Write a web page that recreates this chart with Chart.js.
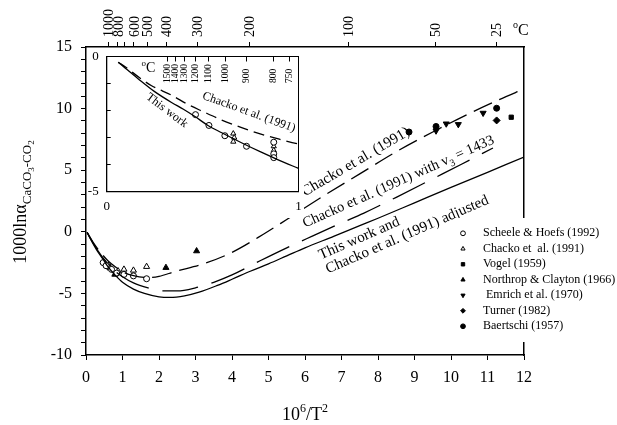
<!DOCTYPE html>
<html>
<head>
<meta charset="utf-8">
<script src="https://cdn.jsdelivr.net/npm/chart.js@4.4.0/dist/chart.umd.min.js"></script>
<style>
  body { margin: 0; background: #fff; }
  #wrap { position: relative; width: 617px; height: 425px; }
  #main { position: absolute; left: 0; top: 0; }
  #inset { position: absolute; left: 88px; top: 50px; background: #fff; }
</style>
</head>
<body>
<div id="wrap">
  <canvas id="main" width="617" height="425"></canvas>
  <canvas id="inset" width="216" height="168"></canvas>
</div>
<script>
// x = 10^6/T^2, y = 1000 ln alpha (CaCO3-CO2)
var chackoX = [0.03, 0.2, 0.4, 0.6, 0.8, 1.0, 1.3, 1.7, 2.0, 2.44, 3.2, 4.0, 4.86, 5.5, 6.5, 7.5, 8.5, 9.5, 10.5, 11.3, 12];
var chackoY = [-0.05, -0.87, -1.68, -2.35, -2.84, -3.24, -3.55, -3.72, -3.62, -3.22, -2.62, -1.67, -0.2, 1.0, 2.9, 4.7, 6.5, 8.1, 9.6, 10.7, 11.6];

var v3X = [0.03, 0.2, 0.4, 0.6, 0.8, 1.0, 1.3, 1.7, 2.1, 2.5, 3.0, 3.5, 4.0, 4.77, 5.5, 6.2, 7.0, 7.6, 8.5, 9.5, 10.3, 11.15];
var v3Y = [-0.05, -0.95, -1.85, -2.6, -3.2, -3.65, -4.15, -4.55, -4.8, -4.8, -4.55, -4.1, -3.5, -2.35, -1.3, -0.35, 0.72, 1.5, 2.8, 4.3, 5.5, 6.8];

var workX = [0.03, 0.1, 0.2, 0.34, 0.46, 0.6, 0.8, 1.0, 1.3, 1.6, 2.0, 2.3, 2.7, 3.1, 3.6, 4.0, 4.5, 5.0, 5.5, 6.0, 6.8, 7.5, 8.0, 9.0, 10.0, 11.0, 12.0];
var workY = [-0.05, -0.45, -1.0, -1.7, -2.2, -2.82, -3.52, -4.1, -4.65, -5.0, -5.28, -5.33, -5.2, -4.9, -4.35, -3.85, -3.2, -2.6, -1.95, -1.3, -0.35, 0.5, 1.1, 2.35, 3.6, 4.83, 6.06];

// measurements, legend order
var seriesNames = ['Scheele & Hoefs (1992)', 'Chacko et  al. (1991)', 'Vogel (1959)', 'Northrop & Clayton (1966)', ' Emrich et al. (1970)', 'Turner (1982)', 'Baertschi (1957)'];
var scheeleX = [0.47, 0.55, 0.70, 0.84, 1.04, 1.3, 1.66];
var scheeleY = [-2.5, -2.75, -3.05, -3.35, -3.46, -3.58, -3.81];
var chackoPtX = [0.61, 0.66, 0.88, 1.04, 1.3, 1.66];
var chackoPtY = [-2.73, -2.95, -3.19, -3.05, -3.13, -2.83];
var vogelX = [11.65];
var vogelY = [9.3];
var northropX = [0.66, 0.79, 2.19, 3.03];
var northropY = [-2.91, -3.46, -2.91, -1.56];
var emrichX = [9.59, 9.87, 10.2, 10.88];
var emrichY = [8.2, 8.77, 8.72, 9.64];
var turnerX = [11.25];
var turnerY = [9.04];
var baertschiX = [8.85, 9.59, 11.25];
var baertschiY = [8.1, 8.55, 10.03];

// top axis temperatures (deg C); 700 has a tick but no label
var topC = [1000, 800, 700, 600, 500, 400, 300, 200, 100, 50, 25];
var topCLabels = ['1000', '800', '', '600', '500', '400', '300', '200', '100', '50', '25'];

// inset (high temperature detail)
var insetWorkX = [0.06, 0.1, 0.165, 0.25, 0.338, 0.4, 0.46, 0.53, 0.6, 0.7, 0.8, 0.9, 1.0];
var insetWorkY = [-0.21, -0.45, -0.83, -1.3, -1.7, -1.95, -2.22, -2.56, -2.82, -3.18, -3.52, -3.84, -4.14];
var insetChackoX = [0.06, 0.1, 0.17, 0.234, 0.338, 0.425, 0.5, 0.6, 0.7, 0.8, 0.9, 1.0];
var insetChackoY = [-0.21, -0.4, -0.78, -1.08, -1.43, -1.78, -2.03, -2.35, -2.62, -2.86, -3.06, -3.24];
var insetCircX = [0.463, 0.533, 0.616, 0.729, 0.871, 0.871, 0.871];
var insetCircY = [-2.15, -2.55, -2.93, -3.32, -3.17, -3.6, -3.74];
var insetTriX = [0.66, 0.665, 0.66, 0.871, 0.871];
var insetTriY = [-2.85, -3.0, -3.15, -3.32, -3.47];
var insetC = [1500, 1400, 1300, 1200, 1100, 1000, 900, 800, 750];

var FONT = '"Liberation Serif", "Times New Roman", serif';
Chart.defaults.font.family = FONT;
Chart.defaults.color = '#000';

function toInvT2(c) { return 1e6 / Math.pow(c + 273.15, 2); }
function pts(xs, ys) { return xs.map(function (x, i) { return { x: x, y: ys[i] }; }); }

function curve(xs, ys, dash) {
  return {
    type: 'line', data: pts(xs, ys), borderColor: '#000', borderWidth: 1.3,
    borderDash: dash, pointRadius: 0, cubicInterpolationMode: 'monotone', fill: false
  };
}
function marks(xs, ys, style, filled, r, rot) {
  return {
    type: 'scatter', data: pts(xs, ys), pointStyle: style, pointRadius: r,
    pointRotation: rot || 0, pointBackgroundColor: filled ? '#000' : '#fff',
    pointBorderColor: '#000', pointBorderWidth: 1
  };
}
// keep the plot frame exactly where afterFit puts it
function noPad(s) { s.paddingTop = 0; s.paddingBottom = 0; s.paddingLeft = 0; s.paddingRight = 0; }

function richText(ctx, parts, x, y, angle, align) {
  ctx.save();
  ctx.translate(x, y);
  ctx.rotate(angle * Math.PI / 180);
  ctx.fillStyle = '#000';
  ctx.textBaseline = 'alphabetic';
  ctx.textAlign = 'left';
  var total = 0;
  parts.forEach(function (p) { ctx.font = p.size + 'px ' + FONT; total += ctx.measureText(p.text).width; });
  var cx = align === 'center' ? -total / 2 : 0;
  parts.forEach(function (p) {
    ctx.font = p.size + 'px ' + FONT;
    ctx.fillText(p.text, cx, p.dy || 0);
    cx += ctx.measureText(p.text).width;
  });
  ctx.restore();
}

// text along the curves, anchored in data units
var curveNotes = [
  { parts: [{ text: 'Chacko et al. (1991)', size: 15 }], x: 6.0, y: 2.87, angle: -30.5 },
  { parts: [{ text: 'Chacko et al. (1991) with v', size: 14.5 }, { text: '3', size: 10, dy: 4 }, { text: ' = 1433', size: 14.5 }], x: 6.0, y: 0.34, angle: -24 },
  { parts: [{ text: 'This work and', size: 15 }], x: 6.44, y: -2.24, angle: -23.5 },
  { parts: [{ text: 'Chacko et al. (1991) adjusted', size: 15 }], x: 6.63, y: -3.38, angle: -23.5 }
];

var mainNotes = {
  id: 'mainNotes',
  afterDraw: function (chart) {
    var ctx = chart.ctx, a = chart.chartArea, sx = chart.scales.x, sy = chart.scales.y;
    curveNotes.forEach(function (n) {
      richText(ctx, n.parts, sx.getPixelForValue(n.x), sy.getPixelForValue(n.y), n.angle);
    });
    // degree C mark at end of top axis
    richText(ctx, [{ text: 'o', size: 10, dy: -7 }, { text: 'C', size: 16 }], sx.getPixelForValue(11.7), a.top - 12, 0);
    // axis titles
    var midX = (a.left + a.right) / 2;
    richText(ctx, [{ text: '10', size: 18 }, { text: '6', size: 12, dy: -8 }, { text: '/T', size: 18 }, { text: '2', size: 12, dy: -8 }], midX, 420, 0, 'center');
    richText(ctx, [{ text: '1000ln\u03b1', size: 18 }, { text: 'CaCO', size: 13, dy: 5 }, { text: '3', size: 9, dy: 8 },
      { text: '-CO', size: 13, dy: 5 }, { text: '2', size: 9, dy: 8 }], 25.5, (a.top + a.bottom) / 2 + 1, -90, 'center');

    // legend inside the plot, over the right frame
    ctx.save();
    ctx.fillStyle = '#fff';
    ctx.fillRect(455, a.top + 171, 617 - 455, 124);
    ctx.restore();
    var first = 3;
    for (var i = 0; i < seriesNames.length; i++) {
      var ds = chart.data.datasets[first + i];
      var yy = a.top + 186.3 + i * 15.5;
      ctx.save();
      ctx.fillStyle = ds.pointBackgroundColor;
      ctx.strokeStyle = '#000';
      ctx.lineWidth = 1;
      Chart.helpers.drawPoint(ctx, { pointStyle: ds.pointStyle, radius: 2.4, rotation: ds.pointRotation, borderWidth: 1 }, a.right - 61, yy);
      ctx.restore();
      ctx.save();
      ctx.font = '12px ' + FONT;
      ctx.fillStyle = '#000';
      ctx.textBaseline = 'middle';
      ctx.fillText(seriesNames[i], a.right - 41, yy);
      ctx.restore();
    }
  }
};

new Chart(document.getElementById('main'), {
  type: 'scatter',
  data: {
    datasets: [
      curve(chackoX, chackoY, [20, 8]),
      curve(v3X, v3Y, [36, 14]),
      curve(workX, workY, []),
      marks(scheeleX, scheeleY, 'circle', false, 3),
      marks(chackoPtX, chackoPtY, 'triangle', false, 3.5),
      marks(vogelX, vogelY, 'rect', true, 3),
      marks(northropX, northropY, 'triangle', true, 3.5),
      marks(emrichX, emrichY, 'triangle', true, 3.5, 180),
      marks(turnerX, turnerY, 'rectRot', true, 3.5),
      marks(baertschiX, baertschiY, 'circle', true, 3)
    ]
  },
  options: {
    responsive: false,
    animation: false,
    layout: { padding: { left: 0, right: 93, top: 0, bottom: 0 } },
    plugins: { legend: { display: false }, tooltip: { enabled: false } },
    scales: {
      x: {
        type: 'linear', position: 'bottom', min: 0, max: 12,
        ticks: { stepSize: 1, autoSkip: false, maxRotation: 0, padding: 8, font: { size: 16 }, color: '#000' },
        grid: { drawOnChartArea: false, tickLength: 5, color: '#000' },
        border: { color: '#000', width: 1.5 },
        afterFit: function (s) { s.height = 70; noPad(s); }
      },
      xTop: {
        type: 'linear', position: 'top', min: 0, max: 12,
        afterBuildTicks: function (s) { s.ticks = topC.map(function (c) { return { value: toInvT2(c) }; }); },
        ticks: {
          autoSkip: false, minRotation: 90, maxRotation: 90, padding: 5, labelOffset: 18, font: { size: 14 }, color: '#000',
          callback: function (v, i) { return topCLabels[i]; }
        },
        grid: { drawOnChartArea: false, tickLength: 5, color: '#000' },
        border: { color: '#000', width: 1.5 },
        afterFit: function (s) { s.height = 47; noPad(s); }
      },
      y: {
        type: 'linear', position: 'left', min: -10, max: 15,
        ticks: {
          stepSize: 1, autoSkip: false, padding: 9, font: { size: 16 }, color: '#000',
          callback: function (v) { return v % 5 === 0 ? v : ''; }
        },
        grid: { drawOnChartArea: false, tickLength: 5, color: '#000' },
        border: { color: '#000', width: 1.5 },
        afterFit: function (s) { s.width = 86; noPad(s); }
      },
      yRight: {
        type: 'linear', position: 'right', min: -10, max: 15,
        ticks: { display: false },
        grid: { drawOnChartArea: false, drawTicks: false },
        border: { color: '#000', width: 1.5 },
        afterFit: function (s) { s.width = 0; noPad(s); }
      }
    }
  },
  plugins: [mainNotes]
});

var insetNotes = {
  id: 'insetNotes',
  afterDraw: function (chart) {
    var ctx = chart.ctx, sx = chart.scales.x, sy = chart.scales.y;
    richText(ctx, [{ text: 'This work', size: 12 }], sx.getPixelForValue(0.304), sy.getPixelForValue(-2.09), 37, 'center');
    richText(ctx, [{ text: 'Chacko et al. (1991)', size: 12 }], sx.getPixelForValue(0.736), sy.getPixelForValue(-2.17), 20, 'center');
    richText(ctx, [{ text: 'o', size: 9, dy: -6 }, { text: 'C', size: 14 }], sx.getPixelForValue(0.182), sy.getPixelForValue(-0.57), 0);
  }
};

new Chart(document.getElementById('inset'), {
  type: 'scatter',
  data: {
    datasets: [
      curve(insetWorkX, insetWorkY, []),
      curve(insetChackoX, insetChackoY, [11, 6]),
      marks(insetCircX, insetCircY, 'circle', false, 3),
      marks(insetTriX, insetTriY, 'triangle', false, 3)
    ]
  },
  options: {
    responsive: false,
    animation: false,
    layout: { padding: { left: 0, right: 5.5, top: 6.5, bottom: 0 } },
    plugins: { legend: { display: false }, tooltip: { enabled: false } },
    scales: {
      x: {
        type: 'linear', position: 'bottom', min: 0, max: 1,
        ticks: { stepSize: 1, maxRotation: 0, padding: 7.5, font: { size: 13 }, color: '#000' },
        grid: { drawOnChartArea: false, drawTicks: false },
        border: { color: '#000', width: 1.3 },
        afterFit: function (s) { s.height = 26.3; noPad(s); }
      },
      xTop: {
        type: 'linear', position: 'top', min: 0, max: 1,
        afterBuildTicks: function (s) { s.ticks = insetC.map(function (c) { return { value: toInvT2(c) }; }); },
        ticks: {
          autoSkip: false, mirror: true, minRotation: 90, maxRotation: 90, padding: 26.5, font: { size: 9.5 }, color: '#000',
          callback: function (v, i) { return String(insetC[i]); }
        },
        grid: { drawOnChartArea: false, tickLength: -5, color: '#000' },
        border: { color: '#000', width: 1 },
        afterFit: function (s) { s.height = 0; noPad(s); }
      },
      y: {
        type: 'linear', position: 'left', min: -5, max: 0,
        ticks: {
          stepSize: 1, autoSkip: false, padding: 12, font: { size: 13 }, color: '#000',
          callback: function (v) { return (v === 0 || v === -5) ? v : ''; }
        },
        grid: { drawOnChartArea: false, tickLength: -4, color: '#000' },
        border: { color: '#000', width: 1.3 },
        afterFit: function (s) { s.width = 18.7; noPad(s); }
      },
      yRight: {
        type: 'linear', position: 'right', min: -5, max: 0,
        ticks: { display: false },
        grid: { drawOnChartArea: false, drawTicks: false },
        border: { color: '#000', width: 1 },
        afterFit: function (s) { s.width = 0; noPad(s); }
      }
    }
  },
  plugins: [insetNotes]
});
</script>
</body>
</html>
